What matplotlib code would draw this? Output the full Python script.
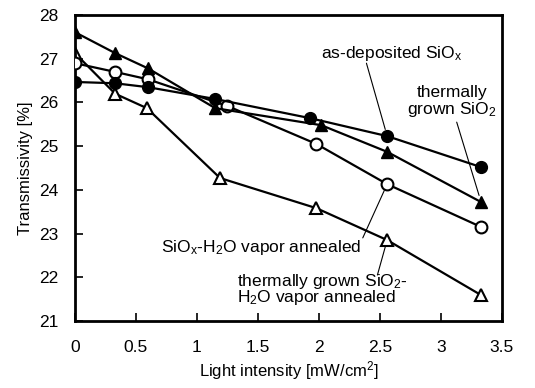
import matplotlib
matplotlib.use("Agg")
import matplotlib.pyplot as plt

plt.rcParams['font.family'] = ['Liberation Sans', 'DejaVu Sans']
plt.rcParams['mathtext.fontset'] = 'custom'
plt.rcParams['mathtext.rm'] = 'Liberation Sans'
plt.rcParams['mathtext.it'] = 'Liberation Sans'

# as-deposited SiOx (filled circles)
x_dep = [0, 0.33, 0.6, 1.15, 1.93, 2.56, 3.33]
y_dep = [26.47, 26.44, 26.35, 26.08, 25.64, 25.23, 24.52]

# thermally grown SiO2 (filled triangles)
x_th = [0, 0.33, 0.6, 1.15, 2.02, 2.56, 3.33]
y_th = [27.61, 27.13, 26.78, 25.87, 25.48, 24.87, 23.72]

# SiOx-H2O vapor annealed (open circles)
x_dep_ann = [0, 0.33, 0.6, 1.25, 1.98, 2.56, 3.33]
y_dep_ann = [26.9, 26.7, 26.53, 25.92, 25.05, 24.13, 23.15]

# thermally grown SiO2-H2O vapor annealed (open triangles)
x_th_ann = [0, 0.33, 0.59, 1.19, 1.98, 2.56, 3.33]
y_th_ann = [27.13, 26.2, 25.87, 24.27, 23.58, 22.85, 21.59]

xticks = [0, 0.5, 1, 1.5, 2, 2.5, 3, 3.5]
xtick_labels = ['0', '0.5', '1', '1.5', '2', '2.5', '3', '3.5']
yticks = [21, 22, 23, 24, 25, 26, 27, 28]

fig = plt.figure(figsize=(5.35, 3.88), dpi=100)
ax = fig.add_axes([0.140, 0.173, 0.798, 0.788])

lw = 1.6
ms = 8.5
ax.plot(x_th_ann, y_th_ann, '-^', color='black', lw=lw, ms=ms,
        mfc='white', mec='black', mew=1.5, zorder=2)
ax.plot(x_dep_ann, y_dep_ann, '-o', color='black', lw=lw, ms=ms,
        mfc='white', mec='black', mew=1.5, zorder=3)
ax.plot(x_th, y_th, '-^', color='black', lw=lw, ms=ms,
        mfc='black', mec='black', zorder=4)
ax.plot(x_dep, y_dep, '-o', color='black', lw=lw, ms=ms,
        mfc='black', mec='black', zorder=5)

ax.set_xlim(0, 3.5)
ax.set_ylim(21, 28)
ax.set_xticks(xticks)
ax.set_xticklabels(xtick_labels)
ax.set_yticks(yticks)
ax.tick_params(direction='in', length=6, width=1.2, labelsize=12.5)
ax.tick_params(axis='x', pad=14)
ax.tick_params(axis='y', pad=12)
for s in ax.spines.values():
    s.set_linewidth(2)

ax.set_xlabel('Light intensity [mW/cm$^2$]', fontsize=12, labelpad=3)
ax.set_ylabel('Transmissivity [%]', fontsize=12, labelpad=4)

fs = 12.5
leader = dict(arrowstyle='-', color='black', lw=0.8, shrinkA=0, shrinkB=5)

ax.text(2.60, 27.13, 'as-deposited SiO$_x$', ha='center', va='center',
        fontsize=fs)
ax.annotate('', xy=(x_dep[5], y_dep[5]), xytext=(2.39, 26.90),
            arrowprops=leader)

ax.text(3.09, 26.01, 'thermally\ngrown SiO$_2$', ha='center', va='center',
        fontsize=fs, linespacing=0.95)
ax.annotate('', xy=(x_th[6], y_th[6]), xytext=(3.13, 25.55),
            arrowprops=leader)

ax.text(1.53, 22.69, 'SiO$_x$-H$_2$O vapor annealed', ha='center',
        va='center', fontsize=fs)
ax.annotate('', xy=(x_dep_ann[5], y_dep_ann[5]), xytext=(2.36, 22.9),
            arrowprops=leader)

ax.text(1.33, 21.71, 'thermally grown SiO$_2$-\nH$_2$O vapor annealed',
        ha='left', va='center', fontsize=fs, linespacing=0.8)
ax.annotate('', xy=(x_th_ann[5], y_th_ann[5]), xytext=(2.48, 22.05),
            arrowprops=leader)

fig.savefig('out.png', dpi=100)
